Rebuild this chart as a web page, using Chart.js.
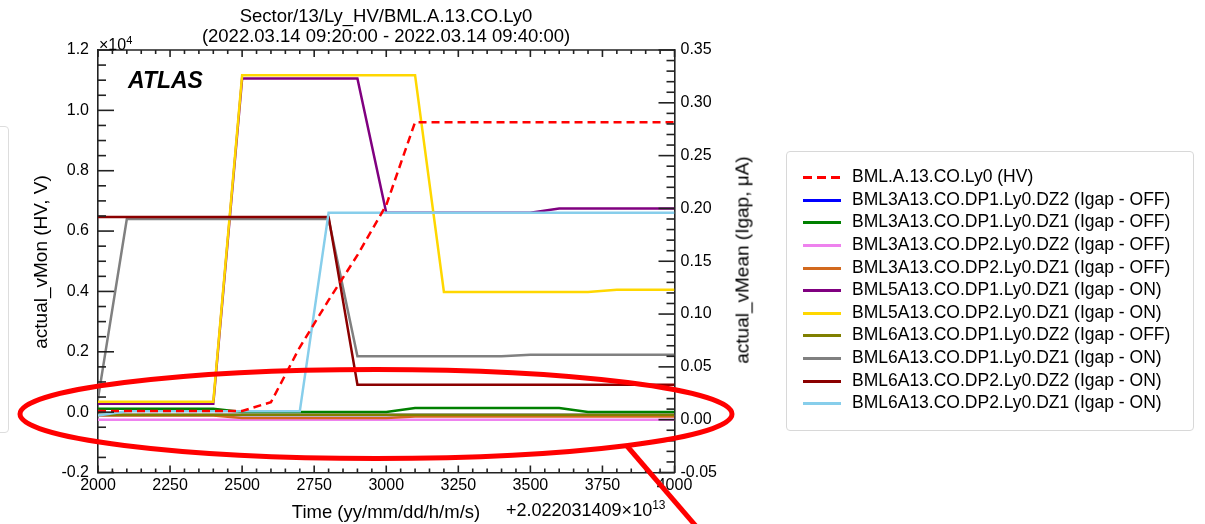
<!DOCTYPE html>
<html>
<head>
<meta charset="utf-8">
<script src="https://cdn.jsdelivr.net/npm/chart.js@4.4.1/dist/chart.umd.min.js"></script>
<style>
  body { margin: 0; background: #fff; font-family: "Liberation Sans", Arial, sans-serif; }
  #wrap { position: relative; width: 1205px; height: 524px; overflow: hidden; }
  #c { position: absolute; left: 0; top: 0; }
  .t { position: absolute; color: #000; white-space: nowrap; line-height: 1; }
  .rot { transform: translate(-50%, -50%) rotate(-90deg); }
  #leftbox { position: absolute; left: -300px; top: 126px; width: 307px; height: 305px;
             border: 1px solid #ddd; border-radius: 4px; }
  #legend { position: absolute; left: 786px; top: 151px; width: 406px; height: 278px;
            border: 1px solid #d8d8d8; border-radius: 4px; }
  .row { position: absolute; left: 0; height: 20px; font-size: 17.5px; white-space: nowrap; }
  .row .s { position: absolute; left: 16px; top: 9px; width: 38px; height: 3px; }
  .row .l { position: absolute; left: 65px; top: 1px; line-height: 1; }
</style>
</head>
<body>
<div id="wrap">
  <canvas id="c" width="1205" height="524"></canvas>
  <div id="leftbox"></div>
  <div class="t" style="left:386px;top:7px;font-size:18.5px;transform:translateX(-50%);">Sector/13/Ly_HV/BML.A.13.CO.Ly0</div>
  <div class="t" style="left:386px;top:27px;font-size:18.5px;transform:translateX(-50%);">(2022.03.14 09:20:00 - 2022.03.14 09:40:00)</div>
  <div class="t" style="left:99px;top:35px;font-size:16px;">×10<sup style="font-size:11px;vertical-align:6px;">4</sup></div>
  <div class="t" style="left:128px;top:69px;font-size:23px;font-weight:bold;font-style:italic;">ATLAS</div>
  <div class="t rot" style="left:40px;top:262px;font-size:19px;">actual_vMon (HV, V)</div>
  <div class="t rot" style="left:742px;top:260px;font-size:19px;">actual_vMean (Igap, μA)</div>
  <div class="t" style="left:386px;top:503px;font-size:18.5px;transform:translateX(-50%);">Time (yy/mm/dd/h/m/s)</div>
  <div class="t" style="left:506px;top:499px;font-size:18px;">+2.022031409×10<sup style="font-size:12px;vertical-align:7px;">13</sup></div>
  <div id="legend"></div>
</div>
<script>
// time offset (s) from 2.022031409e13
const timeOffsets = [2000, 2100, 2200, 2300, 2400, 2500, 2600, 2700, 2800, 2900, 3000,
                     3100, 3200, 3300, 3400, 3500, 3600, 3700, 3800, 3900, 4000];

// HV in units of 1e4 V (left axis)
const hvLy0 = [0.004, 0.004, 0.004, 0.004, 0.004, 0.004, 0.033, 0.215, 0.371, 0.52, 0.686,
               0.961, 0.961, 0.961, 0.961, 0.961, 0.961, 0.961, 0.961, 0.961, 0.961];

// Igap in uA (right axis)
const bml3Dp1Dz2 = [0.0045, 0.0045, 0.0045, 0.0045, 0.0045, 0.0045, 0.0045, 0.0045, 0.0045, 0.0045, 0.0045,
                    0.0045, 0.0045, 0.0045, 0.0045, 0.0045, 0.0045, 0.0045, 0.0045, 0.0045, 0.0045];
const bml3Dp1Dz1 = [0.0104, 0.0104, 0.0104, 0.0104, 0.0104, 0.0073, 0.0073, 0.0073, 0.0073, 0.0073, 0.0073,
                    0.011, 0.011, 0.011, 0.011, 0.011, 0.011, 0.0073, 0.0073, 0.0073, 0.0073];
const bml3Dp2Dz2 = [0.0, 0.0, 0.0, 0.0, 0.0, 0.0, 0.0, 0.0, 0.0, 0.0, 0.0,
                    0.0, 0.0, 0.0, 0.0, 0.0, 0.0, 0.0, 0.0, 0.0, 0.0];
const bml3Dp2Dz1 = [0.004, 0.004, 0.004, 0.004, 0.004, 0.0015, 0.0015, 0.0015, 0.0015, 0.0015, 0.0015,
                    0.003, 0.003, 0.003, 0.003, 0.003, 0.003, 0.003, 0.003, 0.003, 0.003];
const bml5Dp1Dz1 = [0.015, 0.015, 0.015, 0.015, 0.015, 0.323, 0.323, 0.323, 0.323, 0.323, 0.196,
                    0.196, 0.196, 0.196, 0.196, 0.196, 0.200, 0.200, 0.200, 0.200, 0.200];
const bml5Dp2Dz1 = [0.017, 0.017, 0.017, 0.017, 0.017, 0.326, 0.326, 0.326, 0.326, 0.326, 0.326,
                    0.326, 0.121, 0.121, 0.121, 0.121, 0.121, 0.121, 0.123, 0.123, 0.123];
const bml6Dp1Dz2 = [0.0047, 0.0047, 0.0047, 0.0047, 0.0047, 0.0047, 0.0047, 0.0047, 0.0047, 0.0047, 0.0047,
                    0.0047, 0.0047, 0.0047, 0.0047, 0.0047, 0.0047, 0.0047, 0.0047, 0.0047, 0.0047];
const bml6Dp1Dz1 = [0.02, 0.190, 0.190, 0.190, 0.190, 0.190, 0.190, 0.190, 0.190, 0.060, 0.060,
                    0.060, 0.060, 0.060, 0.060, 0.0615, 0.0615, 0.0615, 0.0615, 0.0615, 0.0615];
const bml6Dp2Dz2 = [0.192, 0.192, 0.192, 0.192, 0.192, 0.192, 0.192, 0.192, 0.192, 0.033, 0.033,
                    0.033, 0.033, 0.033, 0.033, 0.033, 0.033, 0.033, 0.033, 0.033, 0.033];
const bml6Dp2Dz1 = [0.004, 0.0079, 0.0079, 0.0079, 0.0079, 0.0079, 0.0079, 0.0079, 0.196, 0.196, 0.196,
                    0.196, 0.196, 0.196, 0.196, 0.196, 0.196, 0.196, 0.196, 0.196, 0.196];

const hvLabel = 'BML.A.13.CO.Ly0 (HV)';
const igapLabels = [
  'BML3A13.CO.DP1.Ly0.DZ2 (Igap - OFF)',
  'BML3A13.CO.DP1.Ly0.DZ1 (Igap - OFF)',
  'BML3A13.CO.DP2.Ly0.DZ2 (Igap - OFF)',
  'BML3A13.CO.DP2.Ly0.DZ1 (Igap - OFF)',
  'BML5A13.CO.DP1.Ly0.DZ1 (Igap - ON)',
  'BML5A13.CO.DP2.Ly0.DZ1 (Igap - ON)',
  'BML6A13.CO.DP1.Ly0.DZ2 (Igap - OFF)',
  'BML6A13.CO.DP1.Ly0.DZ1 (Igap - ON)',
  'BML6A13.CO.DP2.Ly0.DZ2 (Igap - ON)',
  'BML6A13.CO.DP2.Ly0.DZ1 (Igap - ON)'
];
const igapSeries = [bml3Dp1Dz2, bml3Dp1Dz1, bml3Dp2Dz2, bml3Dp2Dz1, bml5Dp1Dz1,
                    bml5Dp2Dz1, bml6Dp1Dz2, bml6Dp1Dz1, bml6Dp2Dz2, bml6Dp2Dz1];
const igapColors = ['#0000ff', '#008000', '#ee82ee', '#d2691e', '#800080',
                    '#ffd700', '#808000', '#808080', '#8b0000', '#87ceeb'];
const hvColor = '#ff0000';

const toPoints = arr => arr.map((v, i) => ({ x: timeOffsets[i], y: v }));

const datasets = [{
  label: hvLabel,
  data: toPoints(hvLy0),
  yAxisID: 'y',
  borderColor: hvColor,
  borderWidth: 2.5,
  borderDash: [8, 5],
  pointRadius: 0,
  tension: 0,
  order: 0
}];
igapSeries.forEach((s, i) => {
  datasets.push({
    label: igapLabels[i],
    data: toPoints(s),
    yAxisID: 'y1',
    borderColor: igapColors[i],
    borderWidth: 2.5,
    pointRadius: 0,
    tension: 0,
    order: 20 - i   // later series drawn on top, HV on top of all
  });
});

// legend box built from the same arrays
const legend = document.getElementById('legend');
const legendItems = [{ label: hvLabel, color: hvColor, dash: true }]
  .concat(igapLabels.map((l, i) => ({ label: l, color: igapColors[i], dash: false })));
legendItems.forEach((it, i) => {
  const row = document.createElement('div');
  row.className = 'row';
  row.style.top = (15 + i * 22.63) + 'px';
  const s = document.createElement('div');
  s.className = 's';
  s.style.background = it.dash
    ? `repeating-linear-gradient(to right, ${it.color} 0 9px, transparent 9px 14px)`
    : it.color;
  const l = document.createElement('div');
  l.className = 'l';
  l.textContent = it.label;
  row.appendChild(s);
  row.appendChild(l);
  legend.appendChild(row);
});

// ROOT style frame (inward major/minor ticks) and the red hand-drawn highlight
const rootFrame = {
  id: 'rootFrame',
  afterDraw(chart) {
    const ctx = chart.ctx;
    const a = chart.chartArea;
    const sx = chart.scales.x, sy = chart.scales.y, sy1 = chart.scales.y1;
    const seg = (x1, y1, x2, y2) => { ctx.beginPath(); ctx.moveTo(x1, y1); ctx.lineTo(x2, y2); ctx.stroke(); };
    ctx.save();
    ctx.globalCompositeOperation = 'source-over';
    ctx.globalAlpha = 1;
    ctx.setLineDash([]);
    ctx.strokeStyle = '#222222';
    ctx.lineWidth = 1.6;
    seg(a.left, a.top, a.right, a.top);
    for (let i = 0; i <= 40; i++) {
      const px = sx.getPixelForValue(2000 + i * 50);
      const len = i % 5 === 0 ? 7 : 4;
      seg(px, a.bottom, px, a.bottom - len);
      seg(px, a.top, px, a.top + len);
    }
    for (let i = 0; i <= 28; i++) {
      const py = sy.getPixelForValue(-0.2 + i * 0.05);
      seg(a.left, py, a.left + (i % 4 === 0 ? 16 : 8), py);
    }
    for (let i = 0; i <= 40; i++) {
      const py = sy1.getPixelForValue(-0.05 + i * 0.01);
      seg(a.right, py, a.right - (i % 5 === 0 ? 16 : 8), py);
    }

    ctx.strokeStyle = '#ff0000';
    ctx.lineWidth = 5;
    ctx.beginPath();
    ctx.ellipse(376, 414, 356, 44.5, 0, 0, 2 * Math.PI);
    ctx.stroke();
    seg(627, 446, 701, 532);
    ctx.restore();
  }
};

Chart.defaults.font.family = "'Liberation Sans', Arial, sans-serif";
Chart.defaults.font.size = 16;
Chart.defaults.color = '#000';

const fmt = d => v => (Math.abs(v) < 1e-9 ? 0 : v).toFixed(d);

new Chart(document.getElementById('c').getContext('2d'), {
  type: 'line',
  data: { datasets },
  options: {
    responsive: false,
    animation: false,
    layout: { padding: { top: 50, left: 0, right: 0, bottom: 0 } },
    plugins: { legend: { display: false }, tooltip: { enabled: false }, title: { display: false } },
    scales: {
      x: {
        type: 'linear',
        min: 2000, max: 4000,
        grid: { display: false, drawTicks: false },
        border: { display: true, color: '#222', width: 1.6 },
        ticks: { stepSize: 250, padding: 3, maxRotation: 0, autoSkip: false, callback: v => String(v) },
        afterFit: s => { s.height = 51.5; }
      },
      y: {
        position: 'left',
        min: -0.2, max: 1.2,
        grid: { display: false, drawTicks: false },
        border: { display: true, color: '#222', width: 1.6 },
        ticks: { stepSize: 0.2, padding: 9, autoSkip: false, callback: fmt(1) },
        afterFit: s => { s.width = 98; }
      },
      y1: {
        position: 'right',
        min: -0.05, max: 0.35,
        grid: { display: false, drawTicks: false },
        border: { display: true, color: '#222', width: 1.6 },
        ticks: { stepSize: 0.05, padding: 6, autoSkip: false, callback: fmt(2) },
        afterFit: s => { s.width = 1205 - 674.5; }
      }
    }
  },
  plugins: [rootFrame]
});
</script>
</body>
</html>
